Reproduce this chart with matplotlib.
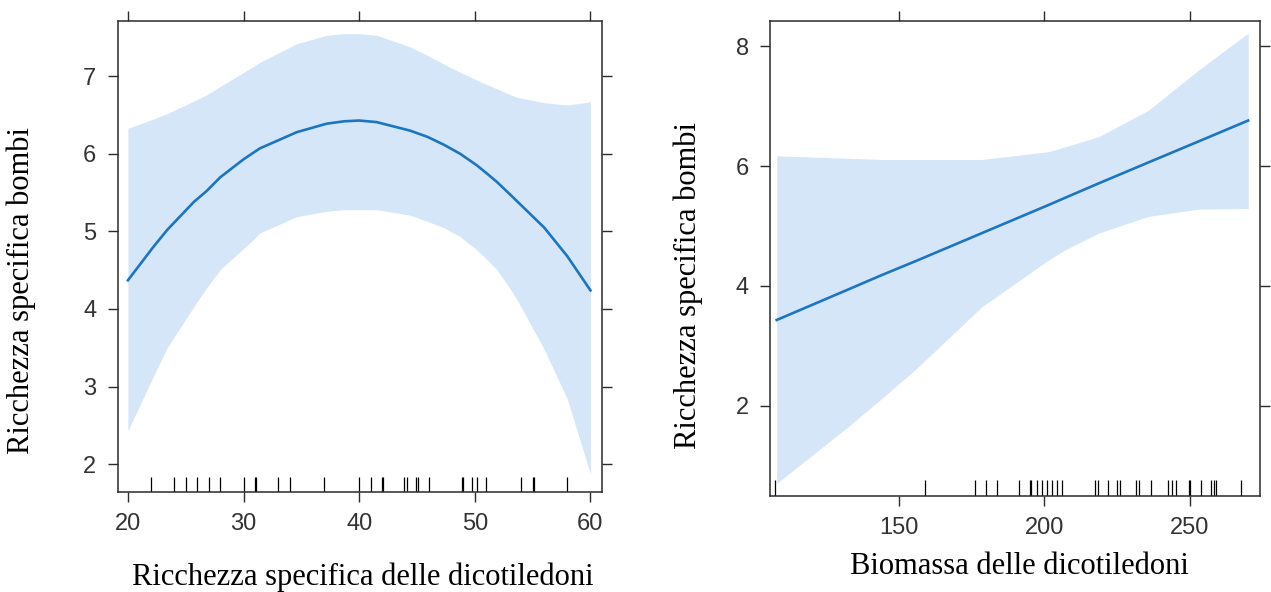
import numpy as np
import matplotlib
matplotlib.use("Agg")
import matplotlib.pyplot as plt
import matplotlib.transforms as mtransforms

# ---- dati pannello sinistro: ricchezza specifica delle dicotiledoni ----
x1 = [20, 22.2, 23.4, 25.7, 26.8, 28.0, 30.0, 30.9, 31.4, 34.6, 37.2, 38.7, 40.0,
      41.5, 44.4, 45.9, 47.3, 48.75, 50.2, 51.1, 51.9, 53.1, 53.65, 56.0, 58.0, 60]
fit1 = [4.37, 4.80, 5.02, 5.38, 5.52, 5.70, 5.93, 6.02, 6.07, 6.28, 6.39, 6.42, 6.43,
        6.41, 6.30, 6.22, 6.12, 6.00, 5.85, 5.74, 5.64, 5.47, 5.39, 5.05, 4.68, 4.24]
upper1 = [6.33, 6.45, 6.52, 6.68, 6.76, 6.87, 7.05, 7.13, 7.18, 7.42, 7.53, 7.55, 7.55,
          7.53, 7.38, 7.27, 7.16, 7.05, 6.95, 6.89, 6.84, 6.76, 6.73, 6.66, 6.63, 6.67]
lower1 = [2.43, 3.13, 3.50, 4.03, 4.27, 4.51, 4.78, 4.90, 4.98, 5.19, 5.26, 5.28, 5.28,
          5.28, 5.21, 5.13, 5.05, 4.93, 4.76, 4.63, 4.51, 4.25, 4.12, 3.48, 2.84, 1.87]
rug1 = [22, 24, 25, 26, 27, 28, 30, 31, 31.1, 33, 34, 37, 40, 41, 42, 42.1, 43.9, 44.1,
        44.9, 45.1, 46, 48.9, 49, 49.8, 50.2, 51, 54, 55, 55.1, 58]

# ---- dati pannello destro: biomassa delle dicotiledoni ----
x2 = [108, 132.6, 144.1, 155.6, 178.5, 201.4, 207.1, 218.6, 235.7, 252.9, 270]
fit2 = [3.43, 3.94, 4.18, 4.41, 4.88, 5.35, 5.47, 5.71, 6.06, 6.41, 6.76]
upper2 = [6.17, 6.13, 6.11, 6.11, 6.11, 6.24, 6.32, 6.49, 6.93, 7.60, 8.22]
lower2 = [0.70, 1.65, 2.12, 2.60, 3.65, 4.43, 4.60, 4.88, 5.16, 5.28, 5.29]
rug2 = [107.4, 158.8, 176.3, 180.0, 183.7, 191.1, 195.0, 195.3, 197.6, 199.1, 200.8,
        202.5, 204.2, 205.9, 217.4, 218.3, 221.9, 224.8, 226.1, 231.6, 232.5, 236.5,
        242.5, 243.9, 245.3, 249.8, 250.0, 253.9, 257.3, 258.1, 258.8, 267.6]

band_col = "#D5E6F8"
line_col = "#1B75C2"
frame_col = "#2b2b2b"

W, H = 1271, 592
fig = plt.figure(figsize=(W / 100, H / 100), dpi=100)


def make_axes(l, r, t, b):
    return fig.add_axes([l / W, 1 - b / H, (r - l) / W, (b - t) / H])


ax1 = make_axes(117.5, 602, 20.5, 492)
ax2 = make_axes(770, 1259.5, 20.5, 495.5)

panels = [
    (ax1, x1, fit1, upper1, lower1, rug1, (19.1, 61.0), (1.64, 7.72),
     [20, 30, 40, 50, 60], [2, 3, 4, 5, 6, 7],
     "Ricchezza specifica delle dicotiledoni", (-0.199, 0.428), (0.507, -0.180)),
    (ax2, x2, fit2, upper2, lower2, rug2, (105.7, 273.9), (0.5, 8.43),
     [150, 200, 250], [2, 4, 6, 8],
     "Biomassa delle dicotiledoni", (-0.1675, 0.442), (0.509, -0.150)),
]

for (ax, x, fit, up, lo, rug, xl, yl, xt, yt, xlab, ylpos, xlpos) in panels:
    ax.fill_between(x, lo, up, color=band_col, lw=0)
    ax.plot(x, fit, color=line_col, lw=1.9)
    trans = mtransforms.blended_transform_factory(ax.transData, ax.transAxes)
    ax.vlines(rug, 0, 0.032, transform=trans, color="black", lw=0.9)
    ax.set_xlim(*xl)
    ax.set_ylim(*yl)
    ax.set_xticks(xt)
    ax.set_yticks(yt)
    ax.tick_params(direction="out", length=7.2, width=1.0, color=frame_col,
                   labelsize=17, labelcolor="#333333", pad=8,
                   top=True, right=True, labeltop=False, labelright=False)
    for sp in ax.spines.values():
        sp.set_color(frame_col)
        sp.set_linewidth(1.1)
    for lab in ax.get_xticklabels() + ax.get_yticklabels():
        lab.set_family("Liberation Sans")
    ax.set_ylabel("Ricchezza specifica bombi", family="Liberation Serif",
                  fontsize=22, va="center")
    ax.yaxis.set_label_coords(*ylpos)
    ax.set_xlabel(xlab, family="Liberation Serif", fontsize=22, va="center")
    ax.xaxis.set_label_coords(*xlpos)

fig.savefig("out.png", dpi=100)
